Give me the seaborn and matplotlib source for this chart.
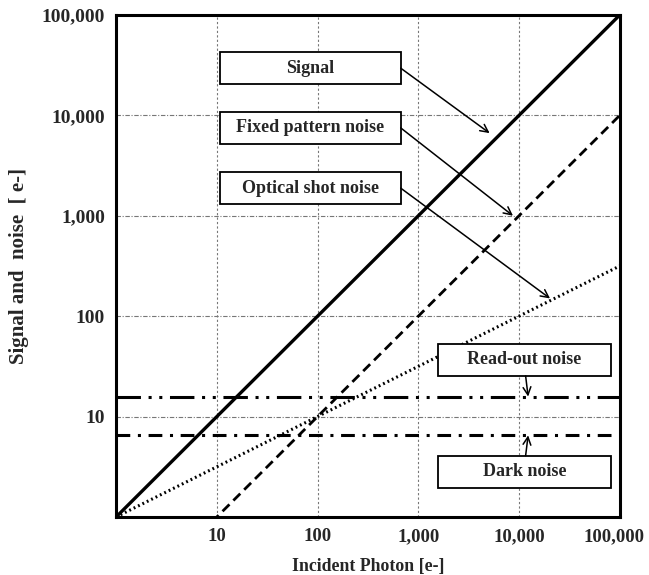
import matplotlib
matplotlib.use("Agg")
import matplotlib.pyplot as plt
import matplotlib.transforms as mtransforms
import seaborn as sns
import pandas as pd
from matplotlib.patches import Rectangle
from matplotlib.ticker import FixedLocator, FixedFormatter, NullLocator

# ---- data ----
photons = [1, 10, 100, 1000, 10000, 100000]
signal = [1, 10, 100, 1000, 10000, 100000]
fixed_pattern = [0.1, 1, 10, 100, 1000, 10000]
shot_noise = [1, 3.16, 10, 31.6, 100, 316]
readout_noise = [15.8] * 6
dark_noise = [6.5] * 6
tick_values = [10, 100, 1000, 10000, 100000]
tick_labels = ["10", "100", "1,000", "10,000", "100,000"]

sns.set_style("white")
plt.rcParams['font.family'] = ['Liberation Serif', 'DejaVu Serif']
plt.rcParams['font.weight'] = 'bold'

fig = plt.figure(figsize=(6.49, 5.75), dpi=100)
ax = fig.add_axes([0.179, 0.101, 0.776, 0.873])

df = pd.DataFrame({"x": photons, "signal": signal, "fpn": fixed_pattern,
                   "shot": shot_noise, "read": readout_noise, "dark": dark_noise})

sns.lineplot(data=df, x="x", y="signal", ax=ax, color="black", lw=2.4)
sns.lineplot(data=df, x="x", y="fpn", ax=ax, color="black", lw=2.0)
sns.lineplot(data=df, x="x", y="shot", ax=ax, color="black", lw=2.2)
sns.lineplot(data=df, x="x", y="read", ax=ax, color="black", lw=2.2)
sns.lineplot(data=df, x="x", y="dark", ax=ax, color="black", lw=2.2)
lines = ax.get_lines()
lines[1].set_linestyle((0, (3.5, 2)))
lines[2].set_linestyle((0, (0.6, 1.0)))
lines[3].set_linestyle((0, (8, 2.5, 1, 2.5, 1, 2.5)))
lines[4].set_linestyle((0, (4.5, 2.5, 1, 2.5)))

ax.set_xscale("log")
ax.set_yscale("log")
ax.set_xlim(1, 100000)
ax.set_ylim(1, 100000)

ax.xaxis.set_major_locator(FixedLocator(tick_values))
ax.xaxis.set_major_formatter(FixedFormatter(tick_labels))
ax.yaxis.set_major_locator(FixedLocator(tick_values))
ax.yaxis.set_major_formatter(FixedFormatter(tick_labels))
ax.xaxis.set_minor_locator(NullLocator())
ax.yaxis.set_minor_locator(NullLocator())
ax.tick_params(axis="y", length=0, labelsize=14, pad=8)
ax.tick_params(axis="x", length=0, labelsize=13.5, pad=8)
for lab in ax.get_xticklabels() + ax.get_yticklabels():
    lab.set_fontweight("bold")
# nudge the last x tick label so it stays inside the figure
last = ax.get_xticklabels()[-1]
last.set_transform(last.get_transform() +
                   mtransforms.ScaledTranslation(-6 / 100, 0, fig.dpi_scale_trans))

# grid
for v in tick_values[:-1]:
    ax.axvline(v, color="#777777", lw=0.8, ls=(0, (2, 2)), zorder=0)
    ax.axhline(v, color="#777777", lw=0.8, ls=(0, (4, 1.5, 1, 1.5)), zorder=0)

for sp in ax.spines.values():
    sp.set_visible(True)
    sp.set_color("black")
    sp.set_linewidth(2.2)

ax.set_xlabel("Incident Photon [e-]", fontsize=12.8, fontweight="bold", labelpad=9)
ax.set_ylabel("Signal and  noise  [ e-]", fontsize=15, fontweight="bold", labelpad=9)

# label boxes
boxes = [
    ("Signal", 0.206, 0.565, 0.894, (5100, 6650)),
    ("Fixed pattern noise", 0.206, 0.565, 0.775, (8700, 1000)),
    ("Optical shot noise", 0.206, 0.565, 0.655, (20300, 150)),
]
bh = 0.064
fs_box = 13
for text, x0, x1, yc, tgt in boxes:
    ax.add_patch(Rectangle((x0, yc - bh / 2), x1 - x0, bh, transform=ax.transAxes,
                           facecolor="white", edgecolor="black", lw=1.3, zorder=5))
    ax.text((x0 + x1) / 2, yc, text, transform=ax.transAxes, ha="center", va="center",
            fontsize=fs_box, fontweight="bold", zorder=6)
    ax.annotate("", xy=tgt, xycoords="data", xytext=(x1, yc), textcoords="axes fraction",
                arrowprops=dict(arrowstyle="->", color="black", lw=1.1,
                                shrinkA=0, shrinkB=0, mutation_scale=14), zorder=6)

# read-out box
rx0, rx1 = 0.639, 0.982
ry = 0.313
ax.add_patch(Rectangle((rx0, ry - bh / 2), rx1 - rx0, bh, transform=ax.transAxes,
                       facecolor="white", edgecolor="black", lw=1.3, zorder=5))
ax.text((rx0 + rx1) / 2, ry, "Read-out noise", transform=ax.transAxes, ha="center",
        va="center", fontsize=fs_box, fontweight="bold", zorder=6)
ax.annotate("", xy=(12300, 15.8), xycoords="data", xytext=(0.813, ry - bh / 2),
            textcoords="axes fraction",
            arrowprops=dict(arrowstyle="->", color="black", lw=1.1,
                            shrinkA=0, shrinkB=0, mutation_scale=14), zorder=6)

# dark box
dy = 0.090
ax.add_patch(Rectangle((rx0, dy - bh / 2), rx1 - rx0, bh, transform=ax.transAxes,
                       facecolor="white", edgecolor="black", lw=1.3, zorder=5))
ax.text((rx0 + rx1) / 2, dy, "Dark noise", transform=ax.transAxes, ha="center",
        va="center", fontsize=fs_box, fontweight="bold", zorder=6)
ax.annotate("", xy=(12300, 6.5), xycoords="data", xytext=(0.813, dy + bh / 2),
            textcoords="axes fraction",
            arrowprops=dict(arrowstyle="->", color="black", lw=1.1,
                            shrinkA=0, shrinkB=0, mutation_scale=14), zorder=6)

fig.savefig("out.png", dpi=100)
